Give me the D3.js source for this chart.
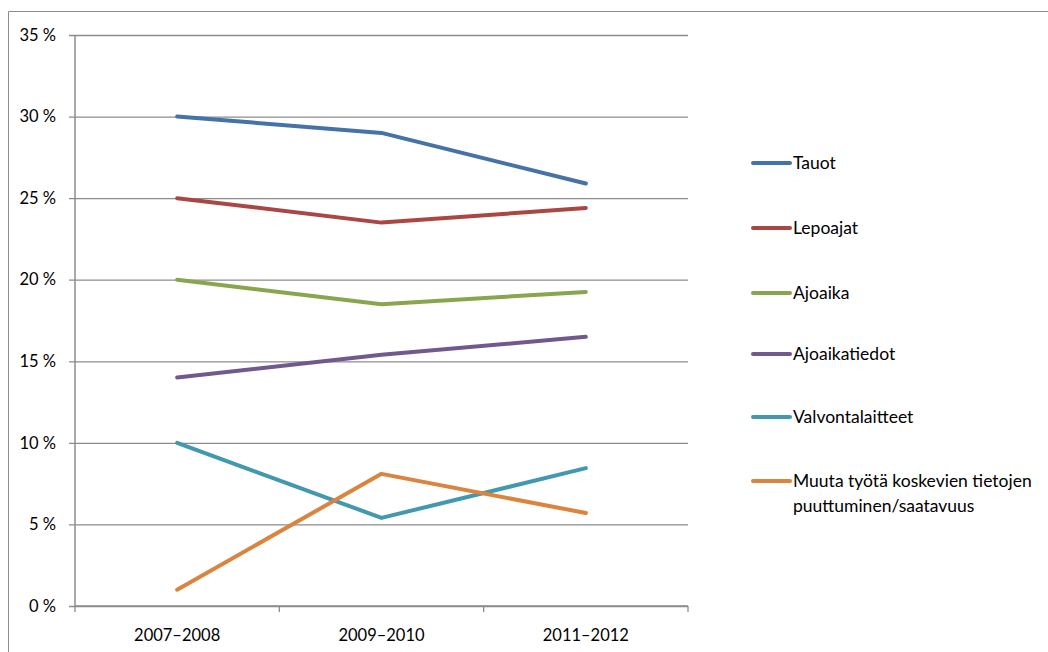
<!DOCTYPE html>
<html>
<head>
<meta charset="utf-8">
<script src="https://cdn.jsdelivr.net/npm/d3@7"></script>
<style>
body { margin: 0; background: #fff; }
text { font-family: Lato, "Open Sans", sans-serif; }
</style>
</head>
<body>
<svg></svg>
<script>
const categories = ['2007–2008', '2009–2010', '2011–2012'];
const seriesNames = ['Tauot', 'Lepoajat', 'Ajoaika', 'Ajoaikatiedot', 'Valvontalaitteet', 'Muuta työtä koskevien tietojen puuttuminen/saatavuus'];
const tauot = [30, 29, 25.9];
const lepoajat = [25, 23.5, 24.4];
const ajoaika = [20, 18.5, 19.25];
const ajoaikatiedot = [14, 15.4, 16.5];
const valvontalaitteet = [10, 5.4, 8.45];
const muuta = [1, 8.1, 5.7];
const yTicks = [0, 5, 10, 15, 20, 25, 30, 35];
const colors = ['#4572a7', '#aa4643', '#89a54e', '#71588f', '#4198af', '#db843d'];

const allValues = [tauot, lepoajat, ajoaika, ajoaikatiedot, valvontalaitteet, muuta];
const series = seriesNames.map((name, i) => ({
	name,
	color: colors[i],
	values: allValues[i].map((v, j) => ({ cat: categories[j], value: v }))
}));

const svg = d3.select('svg')
	.attr('width', 1048)
	.attr('height', 652);

const margin = { top: 35, left: 75 },
	innerWidth = 688 - margin.left,
	innerHeight = 606 - margin.top;

// outer chart border (cropped at right and bottom)
svg.append('path')
	.attr('d', 'M8.5,652 V11.5 H1048')
	.attr('fill', 'none')
	.attr('stroke', '#8c8c8c')
	.attr('stroke-width', 1);

const g = svg.append('g')
	.attr('transform', `translate(${margin.left}, ${margin.top})`);

const xScale = d3.scaleBand()
	.domain(categories)
	.range([0, innerWidth]);

const yScale = d3.scaleLinear()
	.domain([0, 35])
	.range([innerHeight, 0]);

// gridlines + y axis
const yAxis = d3.axisLeft(yScale)
	.tickValues(yTicks)
	.tickFormat(d => d + ' %')
	.tickSize(-innerWidth)
	.tickPadding(19);

const yAxisG = g.append('g').call(yAxis);
yAxisG.select('.domain').remove();
yAxisG.selectAll('.tick line')
	.attr('x1', -6)
	.attr('stroke', '#8c8c8c')
	.attr('stroke-width', 1.3);
yAxisG.selectAll('.tick text')
	.attr('font-size', 16.5)
	.attr('fill', '#000');

g.append('line')
	.attr('x1', 0).attr('x2', 0)
	.attr('y1', 0).attr('y2', innerHeight)
	.attr('stroke', '#8c8c8c')
	.attr('stroke-width', 1.5);

// x axis
const xAxisG = g.append('g')
	.attr('transform', `translate(0, ${innerHeight})`);
xAxisG.append('line')
	.attr('x1', 0).attr('x2', innerWidth)
	.attr('stroke', '#8c8c8c')
	.attr('stroke-width', 1.5);
const bounds = categories.map(c => xScale(c)).concat([innerWidth]);
xAxisG.selectAll('.xtick')
	.data(bounds)
	.enter().append('line')
	.attr('x1', d => d).attr('x2', d => d)
	.attr('y1', 0).attr('y2', 6)
	.attr('stroke', '#8c8c8c')
	.attr('stroke-width', 1.3);
xAxisG.selectAll('.xlabel')
	.data(categories)
	.enter().append('text')
	.attr('x', d => xScale(d) + xScale.bandwidth() / 2)
	.attr('y', 35)
	.attr('text-anchor', 'middle')
	.attr('font-size', 16.5)
	.text(d => d);

// lines
const lineGenerator = d3.line()
	.x(d => xScale(d.cat) + xScale.bandwidth() / 2)
	.y(d => yScale(d.value));

g.selectAll('.series')
	.data(series)
	.enter().append('path')
	.attr('fill', 'none')
	.attr('stroke', d => d.color)
	.attr('stroke-width', 4)
	.attr('stroke-linecap', 'round')
	.attr('stroke-linejoin', 'round')
	.attr('d', d => lineGenerator(d.values));

// legend
const legendY = [163, 228, 293, 354, 417, 481];
const legend = svg.selectAll('.legend')
	.data(series)
	.enter().append('g')
	.attr('transform', (d, i) => `translate(753, ${legendY[i]})`);

legend.append('line')
	.attr('x1', 0).attr('x2', 37)
	.attr('stroke', d => d.color)
	.attr('stroke-width', 4)
	.attr('stroke-linecap', 'round');

legend.append('text')
	.attr('x', 40)
	.attr('y', 6)
	.attr('font-size', 17.5)
	.each(function(d) {
		const t = d3.select(this);
		if (d.name.startsWith('Muuta')) {
			t.append('tspan').attr('x', 40).text('Muuta työtä koskevien tietojen');
			t.append('tspan').attr('x', 40).attr('dy', 25).text('puuttuminen/saatavuus');
		} else {
			t.text(d.name);
		}
	});
</script>
</body>
</html>
